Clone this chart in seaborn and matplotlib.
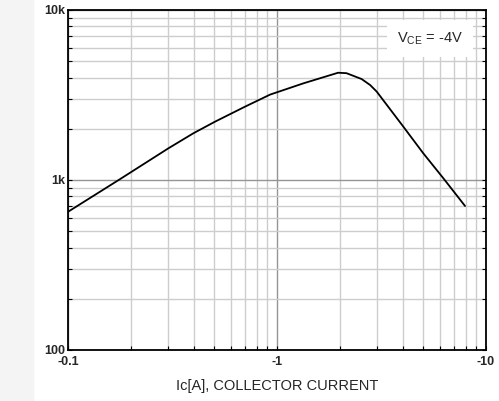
import numpy as np
import pandas as pd
import matplotlib
matplotlib.use("Agg")
import matplotlib.pyplot as plt
import seaborn as sns
from matplotlib.ticker import LogLocator, FixedLocator, NullFormatter

# Data (|Ic| in A, hFE)
collector_current = [0.1, 0.177, 0.302, 0.398, 0.505, 0.703, 0.927, 1.34, 1.96, 2.15,
                     2.54, 2.79, 3.0, 4.02, 5.01, 6.25, 7.94]
dc_gain = [650, 1010, 1535, 1883, 2203, 2700, 3180, 3706, 4275, 4250,
           3926, 3620, 3311, 2061, 1436, 1024, 703]

x_ticks = [0.1, 1, 10]
x_tick_labels = ["-0.1", "-1", "-10"]
y_ticks = [100, 1000, 10000]
y_tick_labels = ["100", "1k", "10k"]

df = pd.DataFrame({"Ic": collector_current, "hFE": dc_gain})

sns.set_theme(style="white")
plt.rcParams["font.family"] = ["Liberation Sans", "DejaVu Sans"]

fig = plt.figure(figsize=(4.99, 4.01), dpi=100)
# light watermark strip on the left
fig.patches.append(plt.Rectangle((0, 0), 33 / 499, 1, transform=fig.transFigure,
                                 color="#f4f4f4", zorder=0))
ax = fig.add_axes([68 / 499, 1 - 350 / 401, (486 - 68) / 499, 340 / 401])

sns.lineplot(data=df, x="Ic", y="hFE", ax=ax, color="black", linewidth=1.3, zorder=5)

ax.set_xscale("log")
ax.set_yscale("log")
ax.set_xlim(0.1, 10)
ax.set_ylim(100, 10000)

ax.xaxis.set_minor_locator(LogLocator(base=10, subs=np.arange(2, 10)))
ax.yaxis.set_minor_locator(LogLocator(base=10, subs=np.arange(2, 10)))
ax.xaxis.set_minor_formatter(NullFormatter())
ax.yaxis.set_minor_formatter(NullFormatter())
ax.xaxis.set_major_locator(FixedLocator(x_ticks))
ax.yaxis.set_major_locator(FixedLocator(y_ticks))
ax.set_xticklabels(x_tick_labels, fontweight="bold", fontsize=9)
ax.set_yticklabels(y_tick_labels, fontweight="bold", fontsize=9)

ax.grid(True, which="major", color="#959595", linewidth=1.0)
ax.grid(True, which="minor", color="#cdcdcd", linewidth=1.0)

ax.tick_params(which="both", direction="in", length=3, width=0.8, color="black",
               left=True, right=True, bottom=True, top=False, pad=2)
ax.tick_params(axis="x", which="major", pad=4)
for s in ax.spines.values():
    s.set_color("black")
    s.set_linewidth(1.3)

ax.set_xlabel("Ic[A], COLLECTOR CURRENT", fontsize=10.5, labelpad=8)
ax.set_ylabel(r"h$_{\mathregular{FE}}$, DC CURRENT GAIN", fontsize=10.5, labelpad=12)

ax.text(0.945, 0.915, r"V$_{\mathregular{CE}}$ = -4V", transform=ax.transAxes,
        ha="right", va="center", fontsize=10.5, zorder=6,
        bbox=dict(facecolor="white", edgecolor="none", boxstyle="square,pad=0.7"))

fig.savefig("out.png", dpi=100)
